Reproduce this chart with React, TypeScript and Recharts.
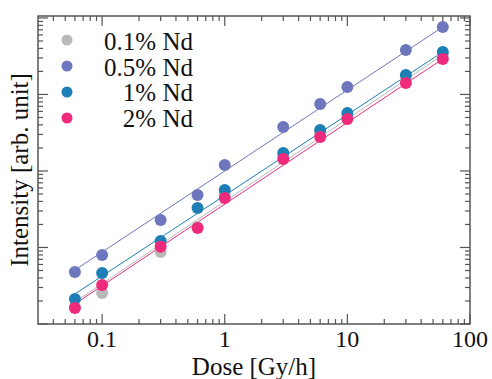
import { ScatterChart, Scatter, XAxis, YAxis, Label } from 'recharts'

// dose rates (Gy/h) shared by all samples
const doses = [0.06, 0.1, 0.3, 0.6, 1, 3, 6, 10, 30, 60]

// intensities (arb. unit)
const nd01 = [1.67, 2.54, 8.73, 18.5, 48.6, 157, 305, 523, 1595, 3283]
const nd05 = [4.78, 7.98, 22.9, 48.6, 120, 376, 751, 1253, 3816, 7625]
const nd1 = [2.12, 4.64, 12.2, 32.8, 56.5, 172, 344, 573, 1798, 3594]
const nd2 = [1.62, 3.24, 10.2, 18.0, 44.4, 143, 278, 478, 1413, 2911]

// fitted power-law lines, two end points each
const fitX = [0.06, 60]
const fit01 = [1.94, 3283]
const fit05 = [5.08, 7625]
const fit1 = [2.47, 3594]
const fit2 = [1.83, 2911]

const xMajor = [0.1, 1, 10, 100]
const xMinor = [0.04, 0.05, 0.06, 0.07, 0.08, 0.09, 0.2, 0.3, 0.4, 0.5, 0.6, 0.7, 0.8, 0.9, 2, 3, 4, 5, 6, 7, 8, 9, 20, 30, 40, 50, 60, 70, 80, 90]
const yMajor = [1, 10, 100, 1000, 10000]
const yMinor = [1, 10, 100, 1000].flatMap((d) => [2, 3, 4, 5, 6, 7, 8, 9].map((m) => d * m))

const xTicks = [...xMinor, ...xMajor].sort((a, b) => a - b)
const yTicks = [...yMinor, ...yMajor].sort((a, b) => a - b)

const series = [
  { name: '0.1% Nd', color: '#b9b9b9', values: nd01, fit: fit01 },
  { name: '0.5% Nd', color: '#6e76bd', values: nd05, fit: fit05 },
  { name: '1% Nd', color: '#1d7fb5', values: nd1, fit: fit1 },
  { name: '2% Nd', color: '#ef2a7c', values: nd2, fit: fit2 },
]

const FONT = '"Liberation Serif", "Times New Roman", serif'
const AXIS = '#555'

// plot box edges in the 492x379 picture
const PLOT = { left: 38, right: 470, top: 16, bottom: 324 }

const toPoints = (xs: number[], ys: number[]) => xs.map((x, i) => ({ x, y: ys[i] }))

function BottomTick(props: any) {
  const { x, payload } = props
  const y = PLOT.bottom
  const major = xMajor.includes(payload.value)
  return (
    <g>
      <line x1={x} x2={x} y1={y} y2={y - (major ? 10 : 5)} stroke={AXIS} strokeWidth={1.2} />
      {major && (
        <text x={x} y={y + 23} textAnchor="middle" fontSize={24} fontFamily={FONT} fill="#111">
          {String(payload.value)}
        </text>
      )}
    </g>
  )
}

function TopTick(props: any) {
  const { x, payload } = props
  const y = PLOT.top
  const major = xMajor.includes(payload.value)
  return <line x1={x} x2={x} y1={y} y2={y + (major ? 10 : 5)} stroke={AXIS} strokeWidth={1.2} />
}

function LeftTick(props: any) {
  const { y, payload } = props
  const x = PLOT.left
  const major = yMajor.includes(payload.value)
  return <line x1={x} x2={x + (major ? 10 : 5)} y1={y} y2={y} stroke={AXIS} strokeWidth={1.2} />
}

function RightTick(props: any) {
  const { y, payload } = props
  const x = PLOT.right
  const major = yMajor.includes(payload.value)
  return <line x1={x} x2={x - (major ? 10 : 5)} y1={y} y2={y} stroke={AXIS} strokeWidth={1.2} />
}

const xAxisCommon = {
  dataKey: 'x',
  type: 'number' as const,
  scale: 'log' as const,
  domain: [0.03, 100],
  allowDataOverflow: true,
  ticks: xTicks,
  interval: 0 as const,
  tickLine: false,
  height: 10,
  axisLine: false,
}

const yAxisCommon = {
  dataKey: 'y',
  type: 'number' as const,
  scale: 'log' as const,
  domain: [1, 10600],
  allowDataOverflow: true,
  ticks: yTicks,
  interval: 0 as const,
  tickLine: false,
  width: 10,
  axisLine: false,
}

export default function App() {
  return (
    <div style={{ position: 'absolute', left: 0, top: 0, width: 492, height: 379, background: '#fff' }}>
      <ScatterChart
        width={492}
        height={379}
        margin={{ top: PLOT.top - 10, right: 492 - PLOT.right - 10, bottom: 379 - PLOT.bottom - 10, left: PLOT.left - 10 }}
      >
        <XAxis xAxisId="bottom" orientation="bottom" {...xAxisCommon} tick={<BottomTick />}>
          <Label
            content={() => (
              <text x={(PLOT.left + PLOT.right) / 2} y={PLOT.bottom + 51} textAnchor="middle" fontSize={25} fontFamily={FONT} fill="#111">
                Dose [Gy/h]
              </text>
            )}
          />
        </XAxis>
        <XAxis xAxisId="top" orientation="top" {...xAxisCommon} tick={<TopTick />} />
        <YAxis yAxisId="left" orientation="left" {...yAxisCommon} tick={<LeftTick />}>
          <Label
            content={() => {
              const cx = PLOT.left - 10
              const cy = (PLOT.top + PLOT.bottom) / 2
              return (
                <text x={cx} y={cy} transform={`rotate(-90 ${cx} ${cy})`} textAnchor="middle" fontSize={25} fontFamily={FONT} fill="#111">
                  Intensity [arb. unit]
                </text>
              )
            }}
          />
        </YAxis>
        <YAxis yAxisId="right" orientation="right" {...yAxisCommon} tick={<RightTick />} />
        {series.map((s) => (
          <Scatter
            key={`fit-${s.name}`}
            xAxisId="bottom"
            yAxisId="left"
            data={toPoints(fitX, s.fit)}
            line={{ stroke: s.color, strokeWidth: 1 }}
            shape={() => <g />}
            isAnimationActive={false}
          />
        ))}
        {series.map((s) => (
          <Scatter
            key={s.name}
            name={s.name}
            xAxisId="bottom"
            yAxisId="left"
            data={toPoints(doses, s.values)}
            fill={s.color}
            shape={(p: any) => <circle cx={p.cx} cy={p.cy} r={6} fill={s.color} />}
            isAnimationActive={false}
          />
        ))}
        {/* keeps the mirrored top/right axes bound to the same ranges */}
        <Scatter xAxisId="top" yAxisId="right" data={toPoints(fitX, fit05)} shape={() => <g />} isAnimationActive={false} />
      </ScatterChart>
      <svg width={492} height={379} style={{ position: 'absolute', left: 0, top: 0, pointerEvents: 'none' }}>
        <rect x={PLOT.left} y={PLOT.top} width={PLOT.right - PLOT.left} height={PLOT.bottom - PLOT.top} fill="none" stroke={AXIS} strokeWidth={1.5} />
        {series.map((s, i) => (
          <g key={s.name}>
            <circle cx={67} cy={40 + i * 26} r={5.5} fill={s.color} />
            <text x={193} y={50 + i * 25.7} textAnchor="end" fontSize={25} fontFamily={FONT} fill="#111">
              {s.name}
            </text>
          </g>
        ))}
      </svg>
    </div>
  )
}
